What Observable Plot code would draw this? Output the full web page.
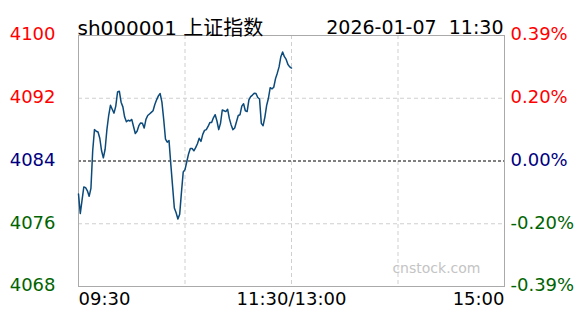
<!DOCTYPE html>
<html>
<head>
<meta charset="utf-8">
<script src="https://cdn.jsdelivr.net/npm/d3@7"></script>
<script src="https://cdn.jsdelivr.net/npm/@observablehq/plot@0.6"></script>
<style>
  html, body { margin: 0; padding: 0; background: #fff; }
</style>
</head>
<body>
<div id="chart"></div>
<script>
const titleText = "sh000001 上证指数";
const dateText = "2026-01-07  11:30";
const prevClose = 4084;
const yTicks = [4100, 4092, 4084, 4076, 4068];
const pctLabels = ["0.39%", "0.20%", "0.00%", "-0.20%", "-0.39%"];
const xTicks = [0, 120, 240];
const xLabels = ["09:30", "11:30/13:00", "15:00"];
const vGrid = [60, 120, 180];
const hGrid = [4092, 4076];
// one price per minute from 09:30 to 11:30
const prices = [
  4079.8, 4077.3, 4079.0, 4080.7, 4080.6, 4080.2, 4079.5, 4080.5, 4085.3, 4088.0,
  4087.8, 4087.7, 4086.9, 4085.3, 4084.4, 4085.5, 4088.0, 4089.8, 4091.1, 4090.6,
  4090.1, 4091.0, 4092.8, 4092.9, 4091.5, 4090.9, 4089.6, 4089.0, 4089.2, 4089.1,
  4089.3, 4088.4, 4087.5, 4087.8, 4088.5, 4088.85, 4088.8, 4088.2, 4089.3, 4089.8,
  4090.0, 4090.2, 4090.4, 4091.2, 4091.8, 4092.3, 4092.6, 4091.5, 4089.3, 4086.8,
  4086.4, 4086.6, 4083.6, 4080.8, 4078.0, 4077.4, 4076.6, 4077.2, 4080.0, 4082.6,
  4082.9, 4083.9, 4084.9, 4085.6, 4085.6, 4085.3, 4085.7, 4086.2, 4086.9, 4086.5,
  4087.4, 4087.9, 4088.0, 4088.4, 4088.9, 4088.9, 4089.5, 4089.9, 4089.1, 4088.0,
  4088.8, 4090.5, 4090.4, 4090.3, 4090.6, 4089.4, 4088.6, 4088.0, 4088.2, 4089.0,
  4089.8, 4089.9, 4091.0, 4091.3, 4090.4, 4090.3, 4091.8, 4092.2, 4092.4, 4092.65,
  4092.6, 4092.1, 4091.9, 4088.8, 4088.5, 4089.6, 4091.1, 4092.0, 4093.35, 4093.2,
  4093.4, 4094.5, 4095.2, 4096.0, 4097.3, 4097.9, 4097.3, 4096.95, 4096.3, 4096.0,
  4095.85
];

const tickColor = v => v > prevClose ? "#ff0000" : v < prevClose ? "#006400" : "#000080";
const font = "'DejaVu Sans', 'Noto Sans CJK SC', sans-serif";

const chart = Plot.plot({
  width: 588,
  height: 324,
  marginLeft: 78,
  marginRight: 84,
  marginTop: 35,
  marginBottom: 38,
  style: { fontFamily: font, background: "#fff", overflow: "visible" },
  x: { domain: [0, 240], axis: null },
  y: { domain: [4068, 4100], axis: null },
  color: { type: "identity" },
  marks: [
    Plot.ruleY(hGrid, { stroke: "#cfcfcf", strokeDasharray: "4,3" }),
    Plot.ruleX(vGrid, { stroke: "#cfcfcf", strokeDasharray: "4,3" }),
    Plot.text(["cnstock.com"], { frameAnchor: "bottom-right", dx: -24, dy: -14, text: d => d, textAnchor: "end", fill: "#c4c4c4", fontSize: 14 }),
    Plot.ruleY([prevClose], { stroke: "#000", strokeDasharray: "3,2" }),
    Plot.frame({ stroke: "#aaaaaa" }),
    Plot.line(prices, { x: (d, i) => i, y: d => d, stroke: "#0b4a7a", strokeWidth: 1.5 }),
    Plot.text(yTicks, { y: d => d, text: d => String(d), frameAnchor: "left", dx: -23, dy: -1, textAnchor: "end", fill: d => tickColor(d), fontSize: 18 }),
    Plot.text(yTicks, { y: d => d, text: (d, i) => pctLabels[i], frameAnchor: "right", dx: 6, dy: -1, textAnchor: "start", fill: d => tickColor(d), fontSize: 18 }),
    Plot.text([xTicks[0]], { x: d => d, text: () => xLabels[0], frameAnchor: "bottom", dy: 18.5, textAnchor: "start", fill: "#000", fontSize: 18 }),
    Plot.text([xTicks[1]], { x: d => d, text: () => xLabels[1], frameAnchor: "bottom", dy: 18.5, textAnchor: "middle", fill: "#000", fontSize: 18 }),
    Plot.text([xTicks[2]], { x: d => d, text: () => xLabels[2], frameAnchor: "bottom", dy: 18.5, textAnchor: "end", fill: "#000", fontSize: 18 }),
    Plot.text([titleText], { frameAnchor: "top-left", text: d => d, dx: -1, dy: -15, textAnchor: "start", fill: "#000", fontSize: 20 }),
    Plot.text([dateText], { frameAnchor: "top-right", text: d => d, dx: -1, dy: -15, textAnchor: "end", fill: "#000", fontSize: 19 })
  ]
});
document.getElementById("chart").appendChild(chart);
</script>
</body>
</html>
